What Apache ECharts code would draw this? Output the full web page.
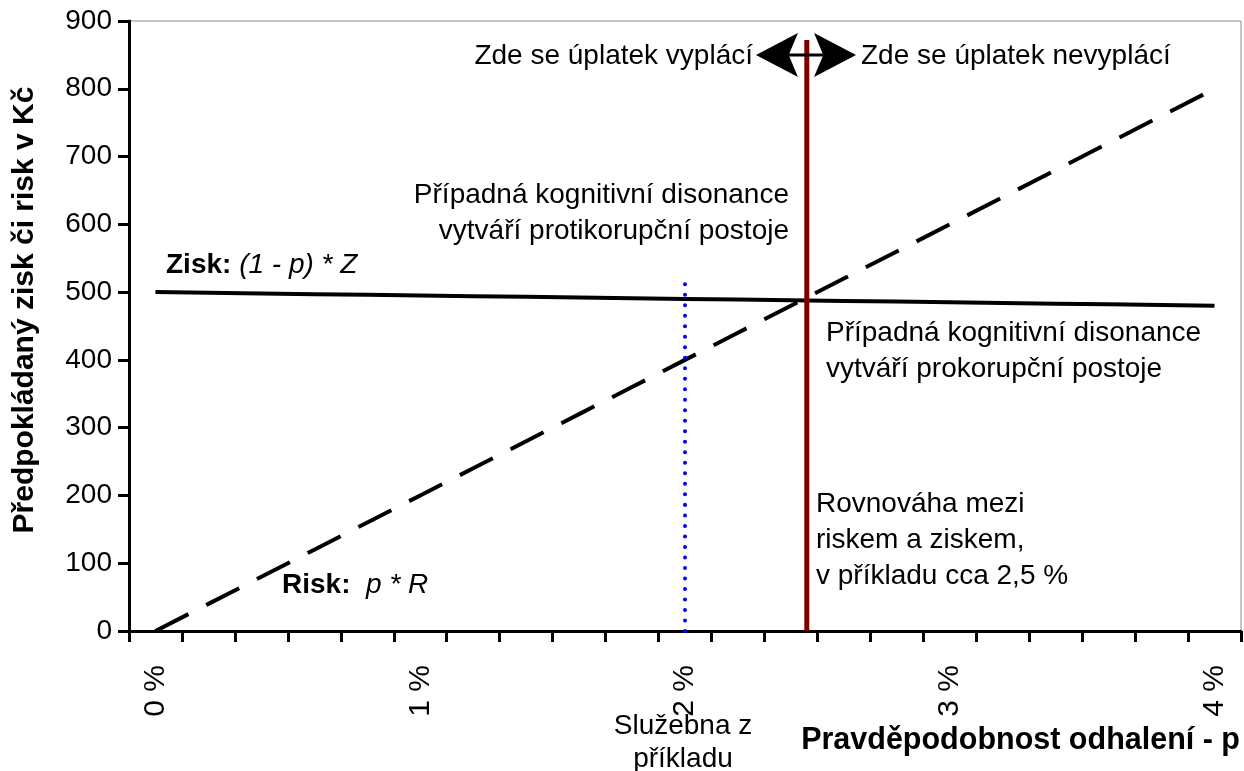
<!DOCTYPE html>
<html>
<head>
<meta charset="utf-8">
<script src="https://cdn.jsdelivr.net/npm/echarts@6/dist/echarts.min.js"></script>
<style>
  html, body { margin: 0; padding: 0; background: #fff; }
  #chart { width: 1244px; height: 771px; }
</style>
</head>
<body>
<div id="chart"></div>
<script>
// kategorie 0 % .. 4 % po 0,2 %
var categories = ['0 %', '0,2 %', '0,4 %', '0,6 %', '0,8 %', '1 %', '1,2 %', '1,4 %', '1,6 %', '1,8 %',
  '2 %', '2,2 %', '2,4 %', '2,6 %', '2,8 %', '3 %', '3,2 %', '3,4 %', '3,6 %', '3,8 %', '4 %'];
// Zisk: (1 - p) * Z, Z = 500
var ziskValues = [500, 499, 498, 497, 496, 495, 494, 493, 492, 491, 490, 489, 488, 487, 486, 485, 484, 483, 482, 481, 480];
// Risk: p * R
var riskValues = [0, 40, 80, 120, 160, 200, 240, 280, 320, 360, 400, 440, 480, 520, 560, 600, 640, 680, 720, 760, 800];
// svisle cary v procentech [p, hodnota]
var rovnovahaLine = [[2.46, 0], [2.46, 872]];
var sluzebnaLine = [[2.0, 0], [2.0, 522]];
// obousmerna sipka nahore (spicky)
var sipka = [[2.268, 850], [2.646, 850]];
var yTicks = { min: 0, max: 900, step: 100 };

var FONT = '"Liberation Sans", Arial, sans-serif';

var chart = echarts.init(document.getElementById('chart'));

function txt(x, y, text, align, extra) {
  return {
    type: 'text', x: x, y: y, z: 100,
    style: Object.assign({
      text: text, fill: '#000', font: '28px ' + FONT,
      align: align || 'left', verticalAlign: 'middle', lineHeight: 36
    }, extra || {})
  };
}

function renderArrow(params, api) {
  var a = api.coord(sipka[0]);
  var b = api.coord(sipka[1]);
  var y = a[1], L = 42, H = 22, N = 0.78 * L;
  return {
    type: 'group',
    children: [{
      type: 'rect',
      shape: { x: a[0] + N, y: y - 1.5, width: (b[0] - a[0]) - 2 * N, height: 3 },
      style: { fill: '#000' }
    }, {
      type: 'polygon',
      shape: { points: [[a[0], y], [a[0] + L, y - H], [a[0] + N, y], [a[0] + L, y + H]] },
      style: { fill: '#000' }
    }, {
      type: 'polygon',
      shape: { points: [[b[0], y], [b[0] - L, y - H], [b[0] - N, y], [b[0] - L, y + H]] },
      style: { fill: '#000' }
    }]
  };
}

var option = {
  animation: false,
  backgroundColor: '#fff',
  grid: {
    left: 129, right: 3, top: 21, bottom: 140,
    show: true, borderColor: '#8c8c8c', borderWidth: 1, backgroundColor: '#fff'
  },
  xAxis: [{
    type: 'category',
    data: categories,
    boundaryGap: true,
    axisLine: { lineStyle: { color: '#000', width: 3 } },
    axisTick: { show: true, interval: 0, length: 11, lineStyle: { color: '#000', width: 3 } },
    axisLabel: { interval: 4, rotate: 90, margin: 34, color: '#000', fontSize: 30, fontFamily: FONT },
    splitLine: { show: false }
  }, {
    type: 'value', min: -0.1, max: 4.1, show: false
  }],
  yAxis: {
    type: 'value',
    min: yTicks.min, max: yTicks.max, interval: yTicks.step,
    axisLine: { show: true, onZero: false, lineStyle: { color: '#000', width: 3 } },
    axisTick: { show: true, length: 11, lineStyle: { color: '#000', width: 3 } },
    axisLabel: { margin: 17, color: '#000', fontSize: 28, fontFamily: FONT },
    splitLine: { show: false }
  },
  series: [{
    name: 'Zisk', type: 'line', data: ziskValues, symbol: 'none',
    lineStyle: { color: '#000', width: 4 }
  }, {
    name: 'Risk', type: 'line', data: riskValues, symbol: 'none',
    lineStyle: { color: '#000', width: 4, type: [37, 20] }
  }, {
    name: 'Služebna', type: 'line', xAxisIndex: 1, data: sluzebnaLine, symbol: 'none',
    lineStyle: { color: '#0000ff', width: 4, type: [0.01, 10.5], cap: 'round' }
  }, {
    name: 'Rovnováha', type: 'line', xAxisIndex: 1, data: rovnovahaLine, symbol: 'none',
    lineStyle: { color: '#7f0000', width: 5 }
  }, {
    name: 'Šipka', type: 'custom', xAxisIndex: 1, data: [sipka[0]], z: 10,
    renderItem: renderArrow, silent: true
  }],
  graphic: [
    {
      type: 'text', x: 25, y: 310, rotation: Math.PI / 2, z: 100,
      style: { text: 'Předpokládaný zisk či risk v Kč', fill: '#000', font: 'bold 30px ' + FONT, align: 'center', verticalAlign: 'middle' }
    },
    txt(1240, 741, 'Pravděpodobnost odhalení - p', 'right', { font: 'bold 30.5px ' + FONT }),
    txt(753, 56, 'Zde se úplatek vyplácí', 'right'),
    txt(861, 56, 'Zde se úplatek nevyplácí', 'left'),
    txt(789, 213, 'Případná kognitivní disonance\nvytváří protikorupční postoje', 'right'),
    txt(826, 351, 'Případná kognitivní disonance\nvytváří prokorupční postoje', 'left'),
    txt(816, 540, 'Rovnováha mezi\nriskem a ziskem,\nv příkladu cca 2,5 %', 'left'),
    txt(683, 743, 'Služebna z\npříkladu', 'center', { lineHeight: 33 }),
    txt(166, 265, '{b|Zisk:} {i|(1 - p) * Z}', 'left', {
      rich: { b: { font: 'bold 28px ' + FONT }, i: { font: 'italic 28px ' + FONT } }
    }),
    txt(282, 585, '{b|Risk:}  {i|p * R}', 'left', {
      rich: { b: { font: 'bold 28px ' + FONT }, i: { font: 'italic 28px ' + FONT } }
    })
  ]
};

chart.setOption(option);
</script>
</body>
</html>
